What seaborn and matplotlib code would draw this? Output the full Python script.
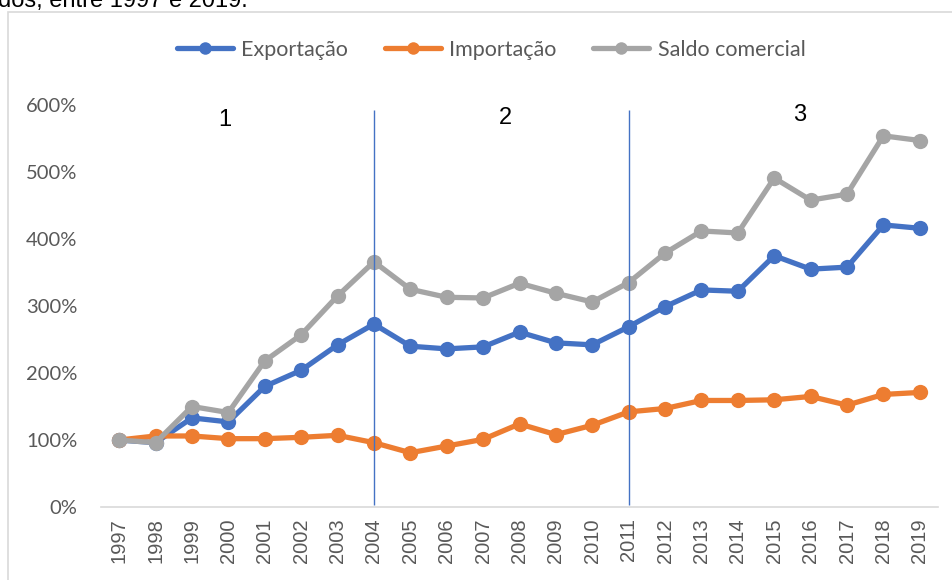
import matplotlib
matplotlib.use("Agg")
import matplotlib.pyplot as plt
import pandas as pd
import seaborn as sns
from matplotlib.patches import Rectangle
from matplotlib.ticker import FuncFormatter

anos = list(range(1997, 2020))
exportacao = [100, 96, 133, 127, 180, 204, 242, 273, 240, 236, 239, 261, 245,
              242, 269, 299, 324, 322, 375, 355, 358, 421, 416]
importacao = [100, 106, 106, 102, 102, 104, 107, 96, 81, 91, 101, 124, 108,
              122, 142, 147, 159, 159, 160, 165, 152, 168, 171]
saldo = [100, 96, 150, 141, 218, 257, 315, 366, 325, 313, 312, 334, 319,
         306, 335, 379, 412, 409, 491, 458, 467, 554, 547]
series = ["Exportação", "Importação", "Saldo comercial"]
cores = ["#4472C4", "#ED7D31", "#A5A5A5"]
periodos = ["1", "2", "3"]
periodo_x = [1999.9, 2007.6, 2015.7]
periodo_y = [578, 580, 585]
divisoes = [2004, 2011]

df = pd.DataFrame({"ano": anos, series[0]: exportacao,
                   series[1]: importacao, series[2]: saldo})
longo = df.melt(id_vars="ano", var_name="serie", value_name="valor")

sns.set_style("white")
plt.rcParams["font.family"] = ["Liberation Sans", "DejaVu Sans"]

fig = plt.figure(figsize=(9.52, 5.8), dpi=100)
ax = fig.add_axes([101 / 952, 1 - 507 / 580, 837 / 952, 402 / 580])

sns.lineplot(data=longo, x="ano", y="valor", hue="serie", palette=cores,
             marker="o", markersize=11, markeredgewidth=0, linewidth=3.8,
             ax=ax, legend=True)

for d in divisoes:
    ax.vlines(d, 3, 592, color="#4472C4", linewidth=1)
for t, x, y in zip(periodos, periodo_x, periodo_y):
    ax.text(x, y, t, ha="center", va="center", fontsize=17, color="black")

ax.set_xlim(1996.5, 2019.5)
ax.set_ylim(0, 600)
ax.set_xticks(anos)
ax.set_xticklabels([str(a) for a in anos], rotation=90)
ax.set_yticks(range(0, 700, 100))
ax.yaxis.set_major_formatter(FuncFormatter(lambda v, p: f"{int(v)}%"))
ax.tick_params(axis="both", length=0, colors="#595959")
ax.tick_params(axis="x", labelsize=14.5, pad=8)
ax.tick_params(axis="y", labelsize=14.5, pad=17)
for lab in ax.get_yticklabels():
    lab.set_family("Lato")
ax.set_xlabel("")
ax.set_ylabel("")
for s in ["top", "right", "left"]:
    ax.spines[s].set_visible(False)
ax.spines["bottom"].set_color("#D9D9D9")
ax.spines["bottom"].set_linewidth(1.2)

handles, labels = ax.get_legend_handles_labels()
leg = ax.legend(handles, labels, loc="center", bbox_to_anchor=(491 / 952, 1 - 50 / 580),
                bbox_transform=fig.transFigure, ncol=3, frameon=False,
                handlelength=2.6, columnspacing=1.7, handletextpad=0.4,
                prop={"family": "Lato", "size": 15.5})
for txt in leg.get_texts():
    txt.set_color("#595959")
for h in leg.legend_handles:
    h.set_markersize(9)

fig.patches.append(Rectangle((8 / 952, -0.1), 1.1, 1 - 12 / 580 + 0.1,
                             transform=fig.transFigure, fill=False,
                             edgecolor="#D9D9D9", linewidth=1.2))
fig.text(-2 / 952, 1 - 7 / 580, "dos, entre 1997 e 2019.", fontsize=17,
         va="baseline", ha="left", color="black")

fig.savefig("out.png", dpi=100)
